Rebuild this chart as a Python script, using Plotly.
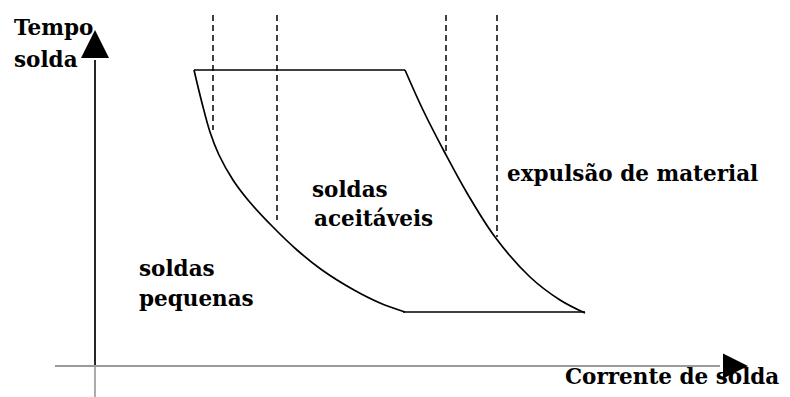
import plotly.graph_objects as go

# weld lobe schematic (arbitrary units, origin where the axes cross)
# acceptable weld region boundaries
top_x = [9.9, 31.0]
top_y = [29.6, 29.6]

left_x = [9.9, 10.7, 11.5, 12.4, 13.8, 15.3, 17.7, 20.2, 22.7, 25.9, 28.5, 31.0]
left_y = [29.6, 26.3, 23.4, 21.1, 18.6, 16.6, 14.0, 11.6, 9.6, 7.6, 6.3, 5.4]

right_x = [31.0, 32.8, 35.0, 37.2, 40.0, 43.5, 46.5, 49.0]
right_y = [29.6, 25.6, 21.3, 17.3, 12.9, 8.9, 6.6, 5.3]

bottom_x = [30.8, 49.0]
bottom_y = [5.4, 5.4]

# dashed verticals: x position, top, bottom
dash_x = [11.8, 18.2, 35.1, 40.2]
dash_top = [35.1, 35.1, 35.1, 35.1]
dash_bottom = [23.6, 14.6, 21.4, 12.9]

# axes
yaxis_x = [0, 0]
yaxis_y = [-3.1, 30.6]
xaxis_x = [-4.0, 62.5]
xaxis_y = [0, 0]
arrow_up = (0, 33.6)
arrow_right = (65.3, 0)

labels = ["Tempo", "solda", "soldas", "aceitáveis", "expulsão de material",
          "soldas", "pequenas", "Corrente de solda"]

fig = go.Figure()

black = dict(color="black", width=1.7)

# axis lines
fig.add_trace(go.Scatter(x=[0, 0], y=[-3.1, 0], mode="lines",
                         line=dict(color="#888888", width=1.4)))
fig.add_trace(go.Scatter(x=yaxis_x, y=[0, yaxis_y[1]], mode="lines", line=black))
fig.add_trace(go.Scatter(x=xaxis_x, y=xaxis_y, mode="lines",
                         line=dict(color="#9a9a9a", width=2.2)))
fig.add_trace(go.Scatter(x=[arrow_up[0]], y=[arrow_up[1]], mode="markers",
                         marker=dict(symbol="arrow-up", size=28, color="black",
                                     line=dict(width=0))))
fig.add_trace(go.Scatter(x=[arrow_right[0]], y=[arrow_right[1]], mode="markers",
                         marker=dict(symbol="arrow-right", size=25, color="black",
                                     line=dict(width=0))))

# lobe
fig.add_trace(go.Scatter(x=top_x, y=top_y, mode="lines", line=black))
fig.add_trace(go.Scatter(x=bottom_x, y=bottom_y, mode="lines", line=black))
fig.add_trace(go.Scatter(x=left_x, y=left_y, mode="lines",
                         line=dict(color="black", width=1.7, shape="spline")))
fig.add_trace(go.Scatter(x=right_x, y=right_y, mode="lines",
                         line=dict(color="black", width=1.7, shape="spline")))

# dashed lines
for xv, t, b in zip(dash_x, dash_top, dash_bottom):
    fig.add_trace(go.Scatter(x=[xv, xv], y=[t, b], mode="lines",
                             line=dict(color="black", width=1.5, dash="6px,4px")))

# text
label_pos = [(-8.3, 33.9), (-8.3, 30.7), (21.5, 17.7), (21.7, 14.8),
             (41.0, 19.3), (4.2, 9.8), (4.2, 6.8), (46.8, -1.0)]
for txt, (xv, yv) in zip(labels, label_pos):
    fig.add_annotation(x=xv, y=yv, text=txt, showarrow=False,
                       xanchor="left", yanchor="middle",
                       font=dict(family="DejaVu Serif", size=21.5, color="black",
                                 weight="bold"))

fig.update_layout(
    width=790, height=397, autosize=False,
    margin=dict(l=0, r=0, t=0, b=0),
    paper_bgcolor="white", plot_bgcolor="white",
    showlegend=False,
    xaxis=dict(range=[-9.5, 69.5], visible=False, fixedrange=True),
    yaxis=dict(range=[-3.1, 36.6], visible=False, fixedrange=True),
)

fig.write_html("out.html", config={"displayModeBar": False},
               post_script="document.body.style.margin='0';")
